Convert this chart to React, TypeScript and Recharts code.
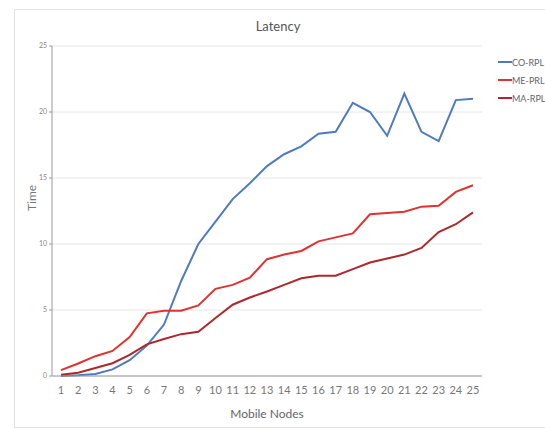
import { LineChart, Line, XAxis, YAxis, CartesianGrid } from 'recharts'

const nodes = ['1', '2', '3', '4', '5', '6', '7', '8', '9', '10', '11', '12', '13', '14', '15', '16', '17', '18', '19', '20', '21', '22', '23', '24', '25']
const coRpl = [0, 0.05, 0.15, 0.5, 1.2, 2.3, 3.9, 7.2, 10, 11.7, 13.4, 14.6, 15.9, 16.8, 17.4, 18.35, 18.5, 20.7, 20.0, 18.2, 21.4, 18.5, 17.8, 20.9, 21.0]
const mePrl = [0.45, 0.95, 1.5, 1.9, 2.95, 4.75, 4.95, 4.95, 5.35, 6.6, 6.9, 7.45, 8.85, 9.2, 9.47, 10.2, 10.5, 10.8, 12.25, 12.35, 12.45, 12.83, 12.9, 13.95, 14.45]
const maRpl = [0.1, 0.25, 0.6, 0.97, 1.6, 2.4, 2.8, 3.17, 3.35, 4.4, 5.4, 5.95, 6.4, 6.9, 7.4, 7.6, 7.6, 8.1, 8.6, 8.9, 9.2, 9.7, 10.9, 11.5, 12.4]
const yTicks = [0, 5, 10, 15, 20, 25]

const series = [
    { key: 'coRpl', name: 'CO-RPL', color: '#4f7bbe' },
    { key: 'mePrl', name: 'ME-PRL', color: '#e0322f' },
    { key: 'maRpl', name: 'MA-RPL', color: '#b0272b' },
]

const data = nodes.map((n, i) => ({ node: n, coRpl: coRpl[i], mePrl: mePrl[i], maRpl: maRpl[i] }))

const font = 'Lato, "Open Sans", sans-serif'

export default function App() {
    return (
        <div style={{ position: 'absolute', left: 0, top: 0, width: 545, height: 430, background: '#fff' }}>
            <div style={{ position: 'absolute', left: 14, top: 9, width: 540, height: 419, border: '1px solid #e2e2e2', boxSizing: 'border-box' }} />
            <div style={{ position: 'absolute', left: 0, width: 556, top: 18, textAlign: 'center', fontFamily: font, fontSize: 13, color: '#555' }}>
                Latency
            </div>
            {/* legend drawn outside the chart so the plot keeps its width */}
            <div style={{ position: 'absolute', left: 498, top: 53, fontFamily: font, fontSize: 9, color: '#666', whiteSpace: 'nowrap' }}>
                {series.map((s) => (
                    <div key={s.key} style={{ display: 'flex', alignItems: 'center', height: 18 }}>
                        <span style={{ display: 'inline-block', width: 14, height: 2, background: s.color }} />
                        <span>{s.name}</span>
                    </div>
                ))}
            </div>
            <div style={{ position: 'absolute', left: 0, top: 0 }}>
                <LineChart width={545} height={430} data={data} margin={{ top: 46, right: 63, bottom: 12, left: 14 }}>
                    <CartesianGrid vertical={false} stroke="#e6e6e6" />
                    <XAxis
                        dataKey="node"
                        height={42}
                        padding={{ left: 9, right: 9 }}
                        tickLine={false}
                        axisLine={{ stroke: '#999' }}
                        tickMargin={4}
                        tick={{ fill: '#777', fontSize: 11, fontFamily: font }}
                        interval={0}
                        label={{ value: 'Mobile Nodes', position: 'insideBottom', offset: 0, fill: '#666', fontSize: 12, fontFamily: font }}
                    />
                    <YAxis
                        width={38}
                        domain={[0, 25]}
                        ticks={yTicks}
                        tickSize={3}
                        tickLine={{ stroke: '#999' }}
                        axisLine={{ stroke: '#999' }}
                        tick={{ fill: '#888', fontSize: 7, fontFamily: font }}
                        label={{ value: 'Time', angle: -90, position: 'insideLeft', offset: 18, fill: '#777', fontSize: 12, fontFamily: font }}
                    />
                    {series.map((s) => (
                        <Line
                            key={s.key}
                            type="linear"
                            dataKey={s.key}
                            name={s.name}
                            stroke={s.color}
                            strokeWidth={2}
                            dot={false}
                            isAnimationActive={false}
                        />
                    ))}
                </LineChart>
            </div>
        </div>
    )
}
